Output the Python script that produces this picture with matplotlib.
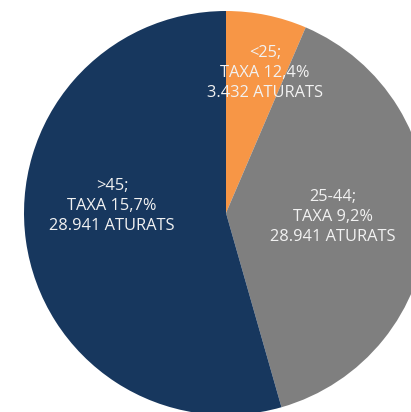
import matplotlib.pyplot as plt

# Age groups and number of unemployed (slice sizes)
groups = ["<25", "25-44", ">45"]
aturats = [3432, 20800, 28941]
taxa = ["12,4%", "9,2%", "15,7%"]
label_aturats = ["3.432", "28.941", "28.941"]
colors = ["#F79646", "#7F7F7F", "#17375E"]

fig = plt.figure(figsize=(4.11, 4.12), dpi=100)
ax = fig.add_axes([0, 0, 1, 1])

wedges, _ = ax.pie(aturats, colors=colors, startangle=90, counterclock=False,
                   radius=1, center=(0, 0))

# label positions inside each slice
label_pos = [(0.193, 0.693), (0.530, -0.020), (-0.564, 0.035)]
for i in range(len(groups)):
    txt = f"{groups[i]};\nTAXA {taxa[i]}\n{label_aturats[i]} ATURATS"
    ax.text(label_pos[i][0], label_pos[i][1], txt, ha="center", va="center",
            color="#F2F2F2", fontsize=11.8, family="Open Sans", linespacing=1.35)

ax.set_xlim(-226 / 202, (411 - 226) / 202)
ax.set_ylim(-(412 - 213) / 202, 213 / 202)
ax.set_aspect("auto")
ax.axis("off")

fig.savefig("out.png", dpi=100)
